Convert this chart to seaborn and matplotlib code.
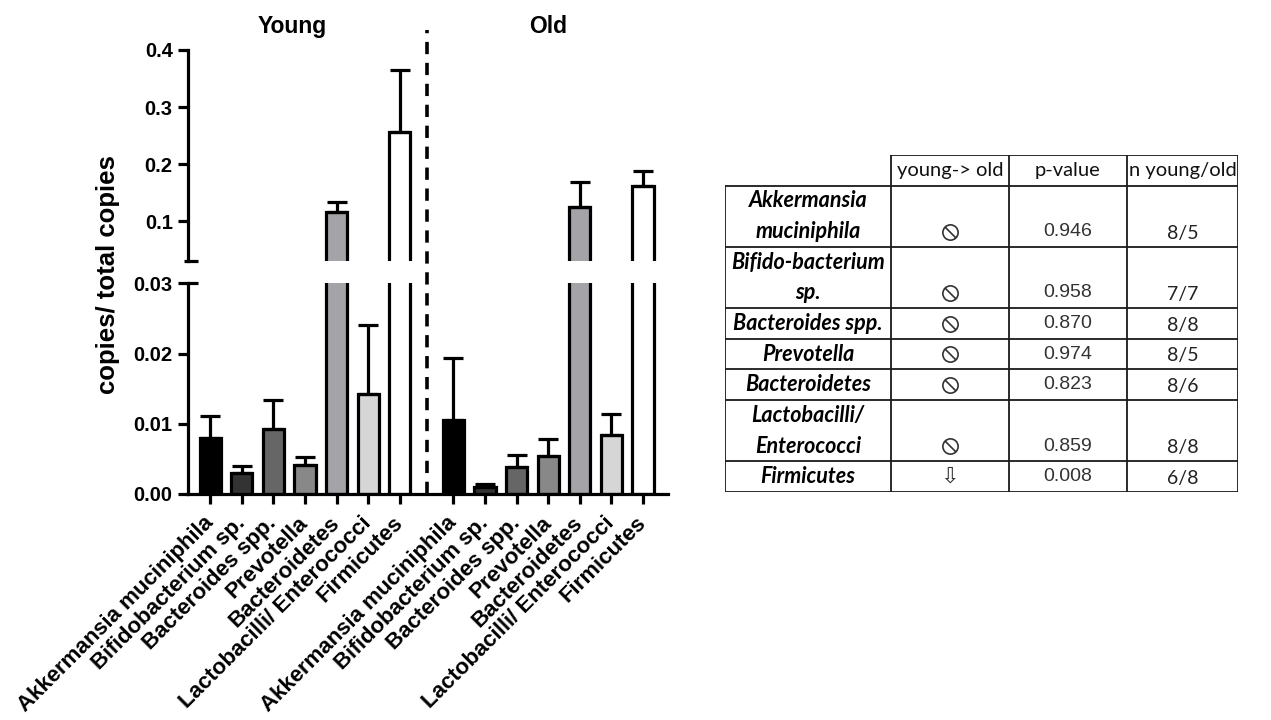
import numpy as np
import pandas as pd
import matplotlib
matplotlib.use("Agg")
import matplotlib.pyplot as plt
import matplotlib.transforms as mtransforms
from matplotlib.path import Path
import seaborn as sns

# ---- bar chart data: mean and SEM of copies / total copies ----
taxa = ["Akkermansia muciniphila", "Bifidobacterium sp.", "Bacteroides spp.",
        "Prevotella", "Bacteroidetes", "Lactobacilli/ Enterococci", "Firmicutes"]
groups = ["Young", "Old"]
young_mean = [0.0080, 0.00295, 0.0093, 0.0041, 0.1152, 0.0143, 0.2553]
young_sem = [0.00315, 0.00105, 0.0041, 0.0012, 0.0186, 0.0098, 0.1091]
old_mean = [0.0105, 0.00104, 0.0039, 0.0054, 0.1250, 0.0084, 0.1613]
old_sem = [0.0088, 0.00040, 0.0017, 0.0025, 0.0430, 0.0030, 0.0267]
bar_colors = ["#000000", "#333333", "#666666", "#888888", "#a3a3a9", "#d6d6d6", "#ffffff"]

low_ticks = [0.00, 0.01, 0.02, 0.03]
high_ticks = [0.1, 0.2, 0.3, 0.4]

# ---- summary table ----
table_header = ["young-> old", "p-value", "n young/old"]
table_taxa = ["Akkermansia\nmuciniphila", "Bifido-bacterium\nsp.", "Bacteroides spp.",
              "Prevotella", "Bacteroidetes", "Lactobacilli/\nEnterococci", "Firmicutes"]
table_change = ["\u29b8", "\u29b8", "\u29b8", "\u29b8", "\u29b8", "\u29b8", "\u21e9"]
table_p = ["0.946", "0.958", "0.870", "0.974", "0.823", "0.859", "0.008"]
table_n = ["8/5", "7/7", "8/8", "8/5", "8/6", "8/8", "6/8"]
col_widths = [166, 118, 118, 111]

sns.set_style("ticks")
plt.rcParams["font.family"] = ["Liberation Sans", "DejaVu Sans"]
plt.rcParams["font.weight"] = "bold"
plt.rcParams["text.color"] = "black"
plt.rcParams["axes.labelcolor"] = "black"

# long-form frame; the two age groups sit side by side with a wider gap between them
group_step = len(taxa) + 0.7
rows = []
for g, (means, sems) in enumerate([(young_mean, young_sem), (old_mean, old_sem)]):
    for i, t in enumerate(taxa):
        rows.append({"group": groups[g], "taxon": t, "pos": i + g * group_step,
                     "mean": means[i], "sem": sems[i]})
df = pd.DataFrame(rows)

fig = plt.figure(figsize=(12.71, 7.2), dpi=100)
ax_hi = fig.add_axes([0.1479, 0.6379, 0.3777, 0.2927])
ax_lo = fig.add_axes([0.1479, 0.3139, 0.3777, 0.2926])

LW = 2.3
palette = dict(zip(taxa, bar_colors))
for ax in (ax_hi, ax_lo):
    sns.barplot(data=df, x="pos", y="mean", hue="taxon", palette=palette,
                native_scale=True, width=0.67, dodge=False, errorbar=None,
                edgecolor="black", linewidth=LW, legend=False, ax=ax)
    ax.errorbar(df["pos"], df["mean"], yerr=[np.zeros(len(df)), df["sem"]],
                fmt="none", ecolor="black", elinewidth=LW, capsize=7,
                capthick=LW, zorder=3)
    ax.set_xlim(-0.7, 14.49)
    ax.set_xlabel("")
    ax.set_ylabel("")
    for s in ("top", "right"):
        ax.spines[s].set_visible(False)
    for s in ("left", "bottom"):
        ax.spines[s].set_linewidth(LW)
        ax.spines[s].set_color("black")
    ax.tick_params(axis="both", width=LW, length=7.5, color="black",
                   labelsize=14.5, labelcolor="black")

# upper segment of the broken axis
ax_hi.set_ylim(0.0305, 0.4)
ax_hi.set_yticks(high_ticks)
ax_hi.set_yticklabels([f"{v:.1f}" for v in high_ticks], fontweight="bold")
ax_hi.spines["bottom"].set_visible(False)
ax_hi.tick_params(axis="x", bottom=False, labelbottom=False)
ax_hi.plot([-0.008, 0.02], [0, 0], transform=ax_hi.transAxes, color="black",
           lw=LW, clip_on=False, solid_capstyle="butt")

# lower segment
ax_lo.set_ylim(0, 0.03)
ax_lo.set_yticks(low_ticks)
ax_lo.set_yticklabels([f"{v:.2f}" for v in low_ticks], fontweight="bold")
ax_lo.plot([0, 0.02], [1, 1], transform=ax_lo.transAxes, color="black",
           lw=LW, clip_on=False, solid_capstyle="butt")
ax_lo.set_xticks(df["pos"])
ax_lo.set_xticklabels(df["taxon"], rotation=45, ha="right", va="center",
                      rotation_mode="anchor", fontsize=16, fontweight="bold")
ax_lo.tick_params(axis="x", pad=11)

# dashed separator between the age groups
sep_x = (df["pos"][len(taxa) - 1] + df["pos"][len(taxa)]) / 2
sep_tr = mtransforms.blended_transform_factory(ax_lo.transData, fig.transFigure)
fig.lines.append(plt.Line2D([sep_x, sep_x], [0.3139, 0.958], transform=sep_tr,
                            color="black", lw=2.6, dashes=(3.4, 2.4)))

# group titles
title_x = [2.6, 10.7]
title_tr = mtransforms.blended_transform_factory(ax_hi.transData, ax_hi.transAxes)
for gx, name in zip(title_x, groups):
    ax_hi.text(gx, 1.112, name, transform=title_tr, ha="center", va="center",
               fontsize=16.5, fontweight="bold", color="black")

fig.text(0.085, 0.618, "copies/ total copies", rotation=90, ha="center",
         va="center", fontsize=18.5, fontweight="bold", color="black")

# ---- table ----
ax_t = fig.add_axes([725 / 1271, 228 / 720, 513 / 1271, 337 / 720])
n_lines = [t.count("\n") + 1 for t in table_taxa]
total = 1 + sum(n_lines)
width = sum(col_widths)
ax_t.set_xlim(0, width)
ax_t.set_ylim(total, 0)
ax_t.axis("off")
edges = np.concatenate([[0], np.cumsum(col_widths)])
line_kw = dict(color="#1a1a1a", lw=1.3, solid_capstyle="projecting")

ax_t.plot([edges[1], width], [0, 0], **line_kw)
tops = np.concatenate([[1], 1 + np.cumsum(n_lines)])
for y in tops:
    ax_t.plot([0, width], [y, y], **line_kw)
ax_t.plot([0, 0], [1, total], **line_kw)
for x in edges[1:]:
    ax_t.plot([x, x], [0, total], **line_kw)

# "no change" sign (circle with a back-slash); no installed font carries U+29B8
no_change_marker = Path.make_compound_path(
    Path.unit_circle(),
    Path([[-0.7071, 0.7071], [0.7071, -0.7071]], [Path.MOVETO, Path.LINETO]))

cal = ["Lato", "DejaVu Sans"]
for j, h in enumerate(table_header):
    ax_t.text((edges[j + 1] + edges[j + 2]) / 2, 0.5, h, ha="center", va="center",
              fontsize=14.5, family=cal, fontweight="normal", color="#111111")

for i, name in enumerate(table_taxa):
    top = tops[i]
    for k, part in enumerate(name.split("\n")):
        ax_t.text(edges[1] / 2, top + k + 0.5, part, ha="center", va="center",
                  fontsize=15.5, family=cal, fontweight="bold", style="italic",
                  color="#000000")
    yv = top + n_lines[i] - 0.5
    xc = (edges[1] + edges[2]) / 2
    if table_change[i] == "\u29b8":
        ax_t.plot([xc], [yv], marker=no_change_marker, markersize=11,
                  markerfacecolor="none", markeredgecolor="#333333",
                  markeredgewidth=1.2, linestyle="none")
    else:
        ax_t.text(xc, yv, table_change[i], ha="center", va="center",
                  fontsize=16, family=["DejaVu Sans"], fontweight="normal",
                  color="#333333")
    ax_t.text((edges[2] + edges[3]) / 2, yv, table_p[i], ha="center", va="center",
              fontsize=14, family=["Liberation Sans", "DejaVu Sans"],
              fontweight="normal", color="#333333")
    ax_t.text((edges[3] + edges[4]) / 2, yv + 0.06, table_n[i], ha="center",
              va="center", fontsize=14, family=cal, fontweight="normal",
              color="#222222")

fig.savefig("out.png", dpi=100)
